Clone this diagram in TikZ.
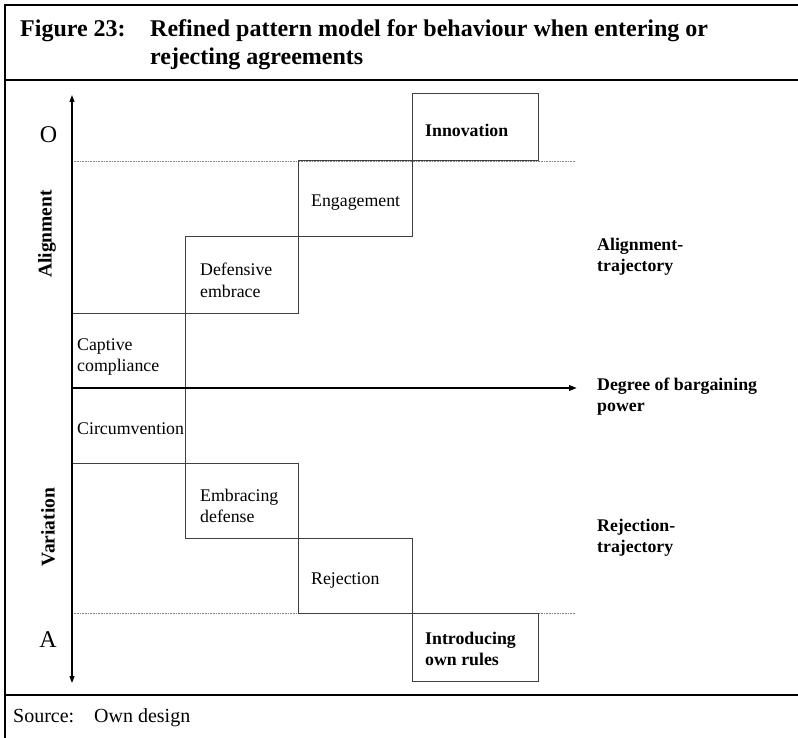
\documentclass[tikz,border=0pt]{standalone}
\usepackage{fontspec}
\setmainfont{Liberation Serif}
\usetikzlibrary{arrows.meta}
\begin{document}
\begin{tikzpicture}[x=1pt,y=-1pt,
  frame/.style={line width=2.6pt},
  stepbox/.style={draw=black!75, line width=1pt},
  guide/.style={draw=black!50, line width=0.6pt, dash pattern=on 0.8pt off 0.8pt},
  lbl/.style={font=\fontsize{17.8}{21}\selectfont, inner sep=0pt, anchor=base west, align=left},
  blbl/.style={lbl, font=\fontsize{17.8}{21}\selectfont\bfseries},
  srcl/.style={lbl, font=\fontsize{20}{24}\selectfont},
  ttl/.style={font=\fontsize{24}{28}\selectfont\bfseries, inner sep=0pt, anchor=base west, align=left},
  big/.style={font=\fontsize{24}{28}\selectfont, inner sep=0pt},
  side/.style={font=\fontsize{19.5}{22}\selectfont\bfseries, inner sep=0pt, rotate=90}
  ]
\useasboundingbox (0,0) rectangle (798,738);
\fill[white] (0,0) rectangle (798,738);
% frame
\draw[frame] (800,5) -- (5,5) -- (5,740);
\draw[frame] (5,80) -- (800,80);
\draw[frame] (5,695) -- (800,695);
% title (anchor = baseline of last line)
\node[ttl] (fig) at (20,37) {Figure 23:};
\node[ttl] (title) at (150,65) {Refined pattern model for behaviour when entering or\\rejecting agreements};
% guide lines
\coordinate (g1a) at (72,161); \coordinate (g1b) at (575,161);
\coordinate (g2a) at (72,613); \coordinate (g2b) at (575,613);
\draw[guide] (g1a) -- (g1b);
\draw[guide] (g2a) -- (g2b);
% boxes
\draw[stepbox] (412,94) rectangle (538,161);
\draw[stepbox] (298,161) rectangle (412,237);
\draw[stepbox] (185,237) rectangle (298,313);
\draw[stepbox] (72,313) rectangle (185,388);
\draw[stepbox] (72,388) rectangle (185,463);
\draw[stepbox] (185,463) rectangle (298,538);
\draw[stepbox] (298,538) rectangle (412,613);
\draw[stepbox] (412,613) rectangle (538,681);
% axes
\coordinate (vtop) at (72,95); \coordinate (vbot) at (72,683);
\coordinate (horg) at (72,388); \coordinate (hend) at (577,388);
\draw[line width=1.2pt, {Triangle[length=7pt,width=5pt]}-{Triangle[length=7pt,width=5pt]}] (vtop) -- (vbot);
\draw[line width=2pt, -{Triangle[length=8pt,width=5.5pt]}] (horg) -- (hend);
% box labels (multi-line: anchor at last baseline)
\node[blbl] (innov) at (425,137) {Innovation};
\node[lbl] (engag) at (311,207) {Engagement};
\node[lbl] (defemb) at (200,297) {Defensive\\embrace};
\node[lbl] (capt) at (77,371) {Captive\\compliance};
\node[lbl] (circ) at (77,434) {Circumvention};
\node[lbl] (embdef) at (200,522) {Embracing\\defense};
\node[lbl] (rej) at (311,584) {Rejection};
\node[blbl] (intro) at (425,665) {Introducing\\own rules};
% right labels
\node[blbl] (altraj) at (597,272) {Alignment-\\trajectory};
\node[blbl] (deg) at (597,411) {Degree of bargaining\\power};
\node[blbl] (rejtraj) at (597,552) {Rejection-\\trajectory};
% left labels
\node[big] (o) at (48.5,135) {O};
\node[big] (a) at (48,640) {A};
\node[side] (align) at (47,234) {Alignment};
\node[side] (vari) at (48,527) {Variation};
% source
\node[srcl] (src) at (13,722) {Source:};
\node[srcl] (own) at (94,722) {Own design};
\end{tikzpicture}
\end{document}
